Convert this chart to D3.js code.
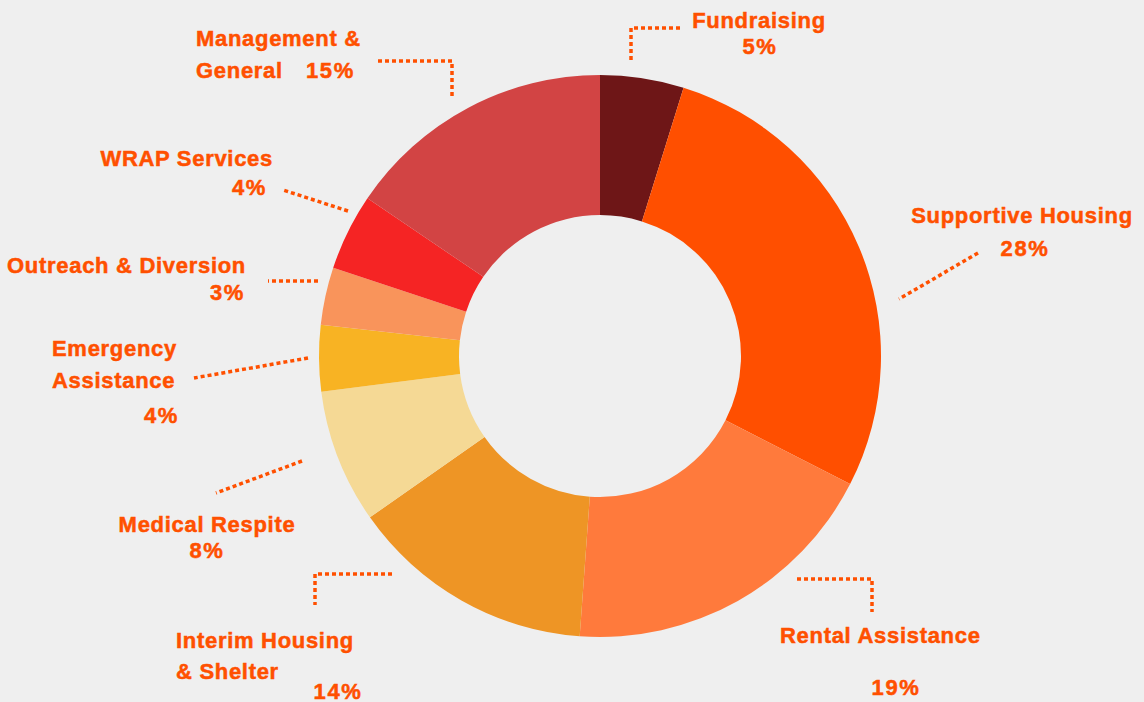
<!DOCTYPE html>
<html><head><meta charset="utf-8">
<script src="https://cdn.jsdelivr.net/npm/d3@7"></script>
<style>
html,body{margin:0;padding:0;background:#efefef;}
svg{display:block;}
text{font-family:"Liberation Sans",Arial,sans-serif;font-weight:bold;fill:#ff5000;stroke:#ff5000;stroke-width:0.5px;font-size:22px;letter-spacing:0.7px;}
text.pct{letter-spacing:1.6px;}
</style></head><body>
<script>
const categories = ["Fundraising","Supportive Housing","Rental Assistance","Interim Housing & Shelter","Medical Respite","Emergency Assistance","Outreach & Diversion","WRAP Services","Management & General"];
const values = [4.8, 27.7, 18.6, 14.1, 7.7, 3.8, 3.3, 4.4, 15.5];
const percentLabels = ["5%","28%","19%","14%","8%","4%","3%","4%","15%"];
const colors = ["#6e1617","#ff4f00","#ff7a3c","#ee9525","#f5d995","#f8b323","#f9945b","#f52424","#d24444"];

// label layout (annotation positions)
const labelLayout = [
  {lines:[["Fundraising",759,28,"middle"]], pct:[760,54,"middle"], path:[[680,28],[631,28],[631,62]]},
  {lines:[["Supportive Housing",1022,223,"middle"]], pct:[1025,256,"middle"], path:[[978,253],[899,299]]},
  {lines:[["Rental Assistance",780,643,"start"]], pct:[896,695,"middle"], path:[[797,579],[872,579],[872,612]]},
  {lines:[["Interim Housing",176,648,"start"],["& Shelter",176,679,"start"]], pct:[338,699,"middle"], path:[[392,574],[315,574],[315,605]]},
  {lines:[["Medical Respite",207,532,"middle"]], pct:[207,558,"middle"], path:[[302,461],[216,493]]},
  {lines:[["Emergency",52,356,"start"],["Assistance",52,388,"start"]], pct:[179,423,"end"], path:[[308,358],[194,378]]},
  {lines:[["Outreach & Diversion",246,273,"end"]], pct:[245,300,"end"], path:[[318,281],[268,281]]},
  {lines:[["WRAP Services",273,166,"end"]], pct:[267,195,"end"], path:[[348,211],[283,190]]},
  {lines:[["Management &",196,46,"start"],["General",196,78,"start"]], pct:[306,78,"start"], path:[[378,61],[452,61],[452,96]]}
];

const W=1144,H=702, cx=600, cy=356, R=281, r=141;
const svg=d3.select("body").append("svg").attr("width",W).attr("height",H);
svg.append("rect").attr("width",W).attr("height",H).attr("fill","#efefef");

const data = categories.map((c,i)=>({cat:c,value:values[i],color:colors[i]}));
const pie=d3.pie().value(d=>d.value).sort(null);
const arc=d3.arc().innerRadius(r).outerRadius(R);
const g=svg.append("g").attr("transform",`translate(${cx},${cy})`);
g.selectAll("path").data(pie(data)).join("path").attr("d",arc).attr("fill",d=>d.data.color);

const line=d3.line();
labelLayout.forEach((l,i)=>{
  svg.append("path").attr("d",line(l.path)).attr("fill","none").attr("stroke","#ff5000")
    .attr("stroke-width",3.5).attr("stroke-dasharray","4,3");
  l.lines.forEach(t=>{
    svg.append("text").attr("x",t[1]).attr("y",t[2]).attr("text-anchor",t[3]).text(t[0]);
  });
  svg.append("text").attr("class","pct").attr("x",l.pct[0]).attr("y",l.pct[1]).attr("text-anchor",l.pct[2]).text(percentLabels[i]);
});
</script>
</body></html>
